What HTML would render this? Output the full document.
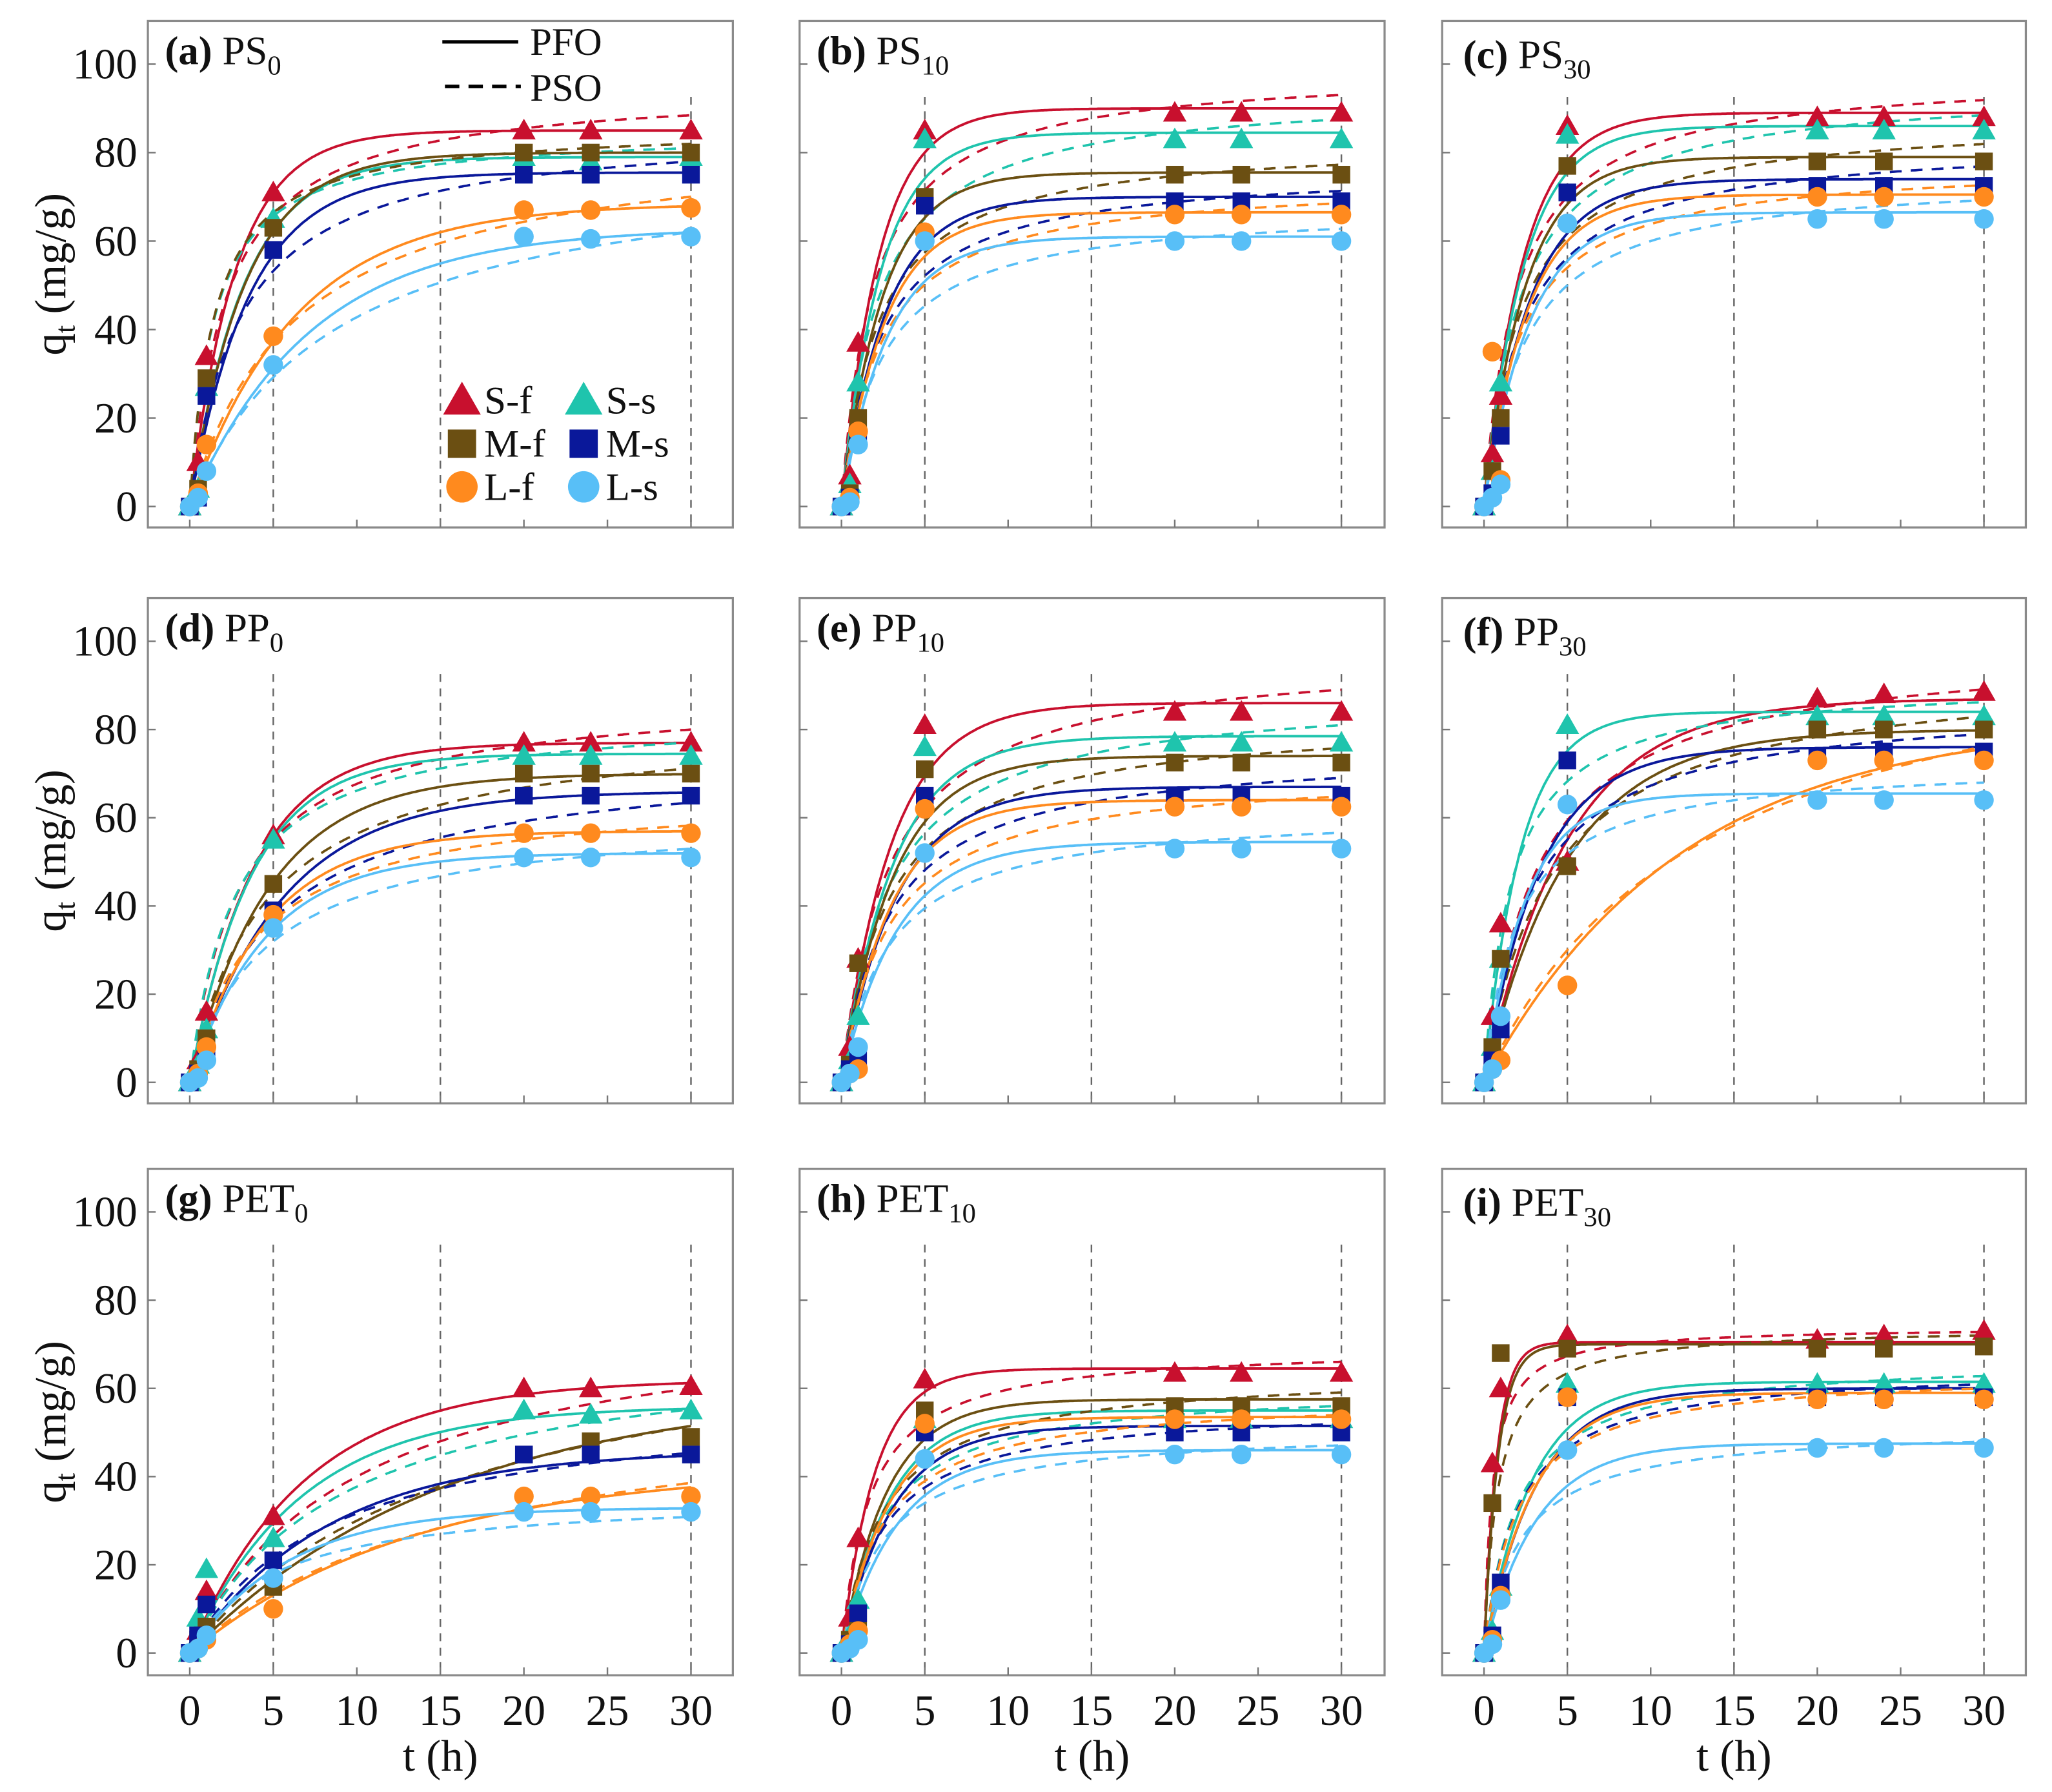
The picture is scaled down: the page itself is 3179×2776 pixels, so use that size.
<!DOCTYPE html>
<html><head><meta charset="utf-8"><style>
html,body{margin:0;padding:0;background:#fff}
svg{display:block}
text{font-family:"Liberation Serif","Times New Roman",serif;fill:#111}
</style></head><body>
<svg id="fig" xmlns="http://www.w3.org/2000/svg" width="3179" height="2776" viewBox="0 0 1568 1369.2" preserveAspectRatio="none" font-family="Liberation Serif, serif"></svg>
<script>
// time points of measurements
const times = [0, 0.5, 1, 5, 20, 24, 30];
const xTicks = [0, 5, 10, 15, 20, 25, 30];
const yTicks = [0, 20, 40, 60, 80, 100];
const dashedTimes = [5, 15, 30];
const seriesNames = ["S-f","S-s","M-f","M-s","L-f","L-s"];
const panelLetters = ["(a)","(b)","(c)","(d)","(e)","(f)","(g)","(h)","(i)"];
const panelPolymers = ["PS","PS","PS","PP","PP","PP","PET","PET","PET"];
const panelSubs = ["0","10","30","0","10","30","0","10","30"];
// measured points per panel: S-f, S-s, M-f, M-s, L-f, L-s
const ptsA = [[0,10,34,71,85,85,85],[0,4,27,65,79,78,79],[0,4,29,63,80,80,80],[0,2,25,58,75,75,75],[0,3,14,38.5,67,67,67.5],[0,2,8,32,61,60.5,61]];
const ptsB = [[0,7,37,85,89,89,89],[0,5,28,83,83,83,83],[0,3,20,70,75,75,75],[0,2,16,68,69,69,69],[0,2,17,62,66,66,66],[0,1,14,60,60,60,60]];
const ptsC = [[0,12,25,86,88,88,88],[0,8,28,84,85,85,85],[0,8,20,77,78,78,78],[0,3,16,71,72.5,72.5,72.5],[0,35,6,64,70,70,70],[0,2,5,64,65,65,65]];
const ptsD = [[0,5,16,56,77,77,77],[0,4,12,55,74,74,74],[0,3,10,45,70,70,70],[0,2,7,39,65,65,65],[0,2,8,38,56.5,56.5,56.5],[0,1,5,35,51,51,51]];
const ptsE = [[0,8,28,81,84,84,84],[0,5,15,76,77,77,77],[0,4,27,71,72.5,72.5,72.5],[0,3,5,65,65,65,65],[0,2,3,62,62.5,62.5,62.5],[0,2,8,52,53,53,53]];
const ptsF = [[0,15,36,50,87,88,88.5],[0,8,28,81,83,83,83],[0,8,28,49,80,80,80],[0,5,12,73,74,75,75],[0,3,5,22,73,73,73],[0,3,15,63,64,64,64]];
const ptsG = [[0,5,14,31,60,60,60.5],[0,8,19,26,55,54,55],[0,3,6,15,45,48,49],[0,4,11,21,45,45,45],[0,1,3,10,35.5,35.5,35.5],[0,1,4,17,32,32,32]];
const ptsH = [[0,8,26,62,63.5,63.5,63.5],[0,4,12,53,53,53,53],[0,3,8,55,56,56,56],[0,2,9,50,50,50,50],[0,2,5,52,53,53,53],[0,1,3,44,45,45,45]];
const ptsI = [[0,43,60,72,71,72,73],[0,5,15,61,61,61,61],[0,34,68,69,69,69,69.5],[0,4,16,58,58,58,58],[0,3,13,58,57.5,57.5,57.5],[0,2,12,46,46.5,46.5,46.5]];
// fitted PFO params [qe, k1]
const pfoA = [[85,.36],[79,.31],[80,.30],[75.5,.28],[68.5,.157],[63,.137]];
const pfoB = [[90,.44],[84.5,.42],[75.5,.40],[70,.37],[66.5,.38],[61,.36]];
const pfoC = [[89,.42],[86,.42],[79,.40],[74,.36],[70.5,.38],[66.5,.36]];
const pfoD = [[77,.26],[74.5,.27],[70,.21],[66,.18],[57,.22],[52,.22]];
const pfoE = [[86,.33],[78.5,.32],[74,.32],[67,.30],[64,.33],[54.5,.30]];
const pfoF = [[87,.2],[84,.45],[80,.2],[76,.3],[82,.085],[65.5,.4]];
const pfoG = [[62,.145],[56,.15],[60,.065],[46,.12],[42,.075],[33,.17]];
const pfoH = [[64.5,.5],[55,.35],[57.5,.37],[51.5,.33],[53.5,.35],[46,.3]];
const pfoI = [[70.5,1.3],[61.5,.35],[70,1.2],[60,.32],[59,.33],[47.5,.32]];
// fitted PSO params [qe, h = k2*qe]
const psoA = [[95,.45],[85,.68],[86,.68],[86,.325],[85,.156],[80,.115]];
const psoB = [[99,.52],[94,.45],[83,.45],[77,.42],[74,.42],[68,.40]];
const psoC = [[98,.5],[95,.45],[88,.45],[83,.42],[78,.45],[75,.40]];
const psoD = [[88,.333],[84,.37],[82,.22],[74,.2],[66,.25],[61,.22]];
const psoE = [[97.5,.35],[88.7,.35],[83,.35],[75.6,.35],[71,.35],[62,.35]];
const psoF = [[99,.3],[91,.6],[94,.25],[86.5,.35],[110,.075],[72.5,.5]];
const psoG = [[80,.1],[72,.11],[80,.06],[58,.12],[60,.06],[36,.2]];
const psoH = [[69.7,.6],[60.7,.4],[64,.4],[56.3,.4],[58.5,.4],[51,.4]];
const psoI = [[74,2],[67,.5],[74,1.2],[65,.5],[64,.5],[51.5,.45]];

const allPts=[ptsA,ptsB,ptsC,ptsD,ptsE,ptsF,ptsG,ptsH,ptsI];
const allPfo=[pfoA,pfoB,pfoC,pfoD,pfoE,pfoF,pfoG,pfoH,pfoI];
const allPso=[psoA,psoB,psoC,psoD,psoE,psoF,psoG,psoH,psoI];
const colors=["#c8102e","#1fc4ad","#6b4f12","#0a189a","#ff8a1e","#58bff7"];
const shapes=["tri","tri","sq","sq","circ","circ"];

const NS="http://www.w3.org/2000/svg";
const svg=document.getElementById('fig');
function el(tag,attrs,parent){const e=document.createElementNS(NS,tag);for(const k in attrs)e.setAttribute(k,attrs[k]);(parent||svg).appendChild(e);return e;}
const colX=[[113,560,145,528],[611,1058,643,1025],[1102,1548,1134,1516]];
const rowY=[[16,403,387,49],[457,843,827,490],[893,1280,1263,926]];

function marker(g,shape,cx,cy,s,color){
  let m;
  if(shape==="tri") m=el('polygon',{points:`${cx},${cy-s*0.6} ${cx-s*0.6},${cy+s*0.45} ${cx+s*0.6},${cy+s*0.45}`,fill:color},g);
  else if(shape==="sq") m=el('rect',{x:cx-s*0.45,y:cy-s*0.45,width:s*0.9,height:s*0.9,fill:color},g);
  else m=el('circle',{cx:cx,cy:cy,r:s*0.5,fill:color},g);
  return m;
}

for(let p=0;p<9;p++){
  const c=colX[p%3], r=rowY[Math.floor(p/3)];
  const g=el('g',{});
  
  
  const X=t=>c[2]+(t/30)*(c[3]-c[2]);
  const Y=v=>r[2]-(v/100)*(r[2]-r[3]);
  const cid='clip'+p;
  const cp=el('clipPath',{id:cid},g);el('rect',{x:c[0],y:r[0],width:c[1]-c[0],height:r[1]-r[0]},cp);
  dashedTimes.forEach(t=>{const l=el('line',{x1:X(t),x2:X(t),y1:r[0]+(p===0&&t<30?138:58),y2:r[1],stroke:'#666','stroke-width':1.2,'stroke-dasharray':'6,5'},g);
    });
  const fr=el('rect',{x:c[0],y:r[0],width:c[1]-c[0],height:r[1]-r[0],fill:'none',stroke:'#8a8a8a','stroke-width':1.6},g);
  
  yTicks.forEach(v=>{el('line',{x1:c[0],x2:c[0]+6,y1:Y(v),y2:Y(v),stroke:'#777','stroke-width':1.2},g);
    if(p%3===0){const t=el('text',{x:c[0]-8,y:Y(v)+11,'text-anchor':'end','font-size':33,'font-family':'Liberation Serif, serif'},g);t.textContent=v;
      }});
  xTicks.forEach(v=>{el('line',{x1:X(v),x2:X(v),y1:r[1],y2:r[1]-6,stroke:'#777','stroke-width':1.2},g);
    if(p>=6){const t=el('text',{x:X(v),y:r[1]+38,'text-anchor':'middle','font-size':33,'font-family':'Liberation Serif, serif'},g);t.textContent=v;
      }});
  const cg=el('g',{'clip-path':`url(#${cid})`},g);
  for(let s=0;s<6;s++){
    const [q1,k1]=allPfo[p][s],[q2,h]=allPso[p][s];
    let d1='',d2='';
    for(let i=0;i<=300;i++){const t=i*0.1;
      const v1=q1*(1-Math.exp(-k1*t)), v2=q2*h*t/(1+h*t);
      d1+=(i?'L':'M')+X(t).toFixed(1)+','+Y(v1).toFixed(1);
      d2+=(i?'L':'M')+X(t).toFixed(1)+','+Y(v2).toFixed(1);}
    const a=el('path',{d:d2,fill:'none',stroke:colors[s],'stroke-width':1.8,'stroke-dasharray':'9,7'},cg);
    
    const b=el('path',{d:d1,fill:'none',stroke:colors[s],'stroke-width':1.9},cg);
    
  }
  for(let s=0;s<6;s++){
    allPts[p][s].forEach((v,i)=>{const m=marker(cg,shapes[s],X(times[i]),Y(v),15,colors[s]);
      });
  }
  const tt=el('text',{x:c[0]+(p%3===2?16:13),y:r[0]+(p%3===2?36:33),'font-size':31,'font-family':'Liberation Serif, serif'},g);
  
  const b1=el('tspan',{'font-weight':'bold'},tt);b1.textContent=panelLetters[p]+' ';
  const b2=el('tspan',{},tt);b2.textContent=(p%3===2?' ':'')+panelPolymers[p];
  const b3=el('tspan',{'font-size':21,dy:8},tt);b3.textContent=panelSubs[p];
  if(p%3===0){const yl=el('text',{x:0,y:0,'font-size':34,'text-anchor':'middle','font-family':'Liberation Serif, serif',transform:`translate(50,${(r[0]+r[1])/2}) rotate(-90)`},g);
    
    const q=el('tspan',{},yl);q.textContent='q';const qs=el('tspan',{'font-size':22,dy:7},yl);qs.textContent='t';const q3=el('tspan',{dy:-7},yl);q3.textContent=' (mg/g)';}
  if(p>=6){const xl=el('text',{x:(c[0]+c[1])/2,y:1353,'font-size':34,'text-anchor':'middle','font-family':'Liberation Serif, serif'},g);xl.textContent='t (h)';
    }
}
const lg=el('g',{});

el('line',{x1:338,x2:396,y1:32,y2:32,stroke:'#000','stroke-width':2.6},lg);
el('line',{x1:340,x2:398,y1:66,y2:66,stroke:'#000','stroke-width':2.6,'stroke-dasharray':'11,7'},lg);
let t1=el('text',{x:405,y:42,'font-size':30,'font-family':'Liberation Serif, serif'},lg);t1.textContent='PFO';
let t2=el('text',{x:405,y:77,'font-size':30,'font-family':'Liberation Serif, serif'},lg);t2.textContent='PSO';
const lx=[353,446], ly=[306,339,372];
for(let s=0;s<6;s++){const col=s%2,row=Math.floor(s/2);
  const m=marker(lg,shapes[s],lx[col],ly[row],24,colors[s]);
  
  const t=el('text',{x:lx[col]+17,y:ly[row]+10,'font-size':30,'font-family':'Liberation Serif, serif'},lg);t.textContent=seriesNames[s];
  }
</script>
</body></html>
